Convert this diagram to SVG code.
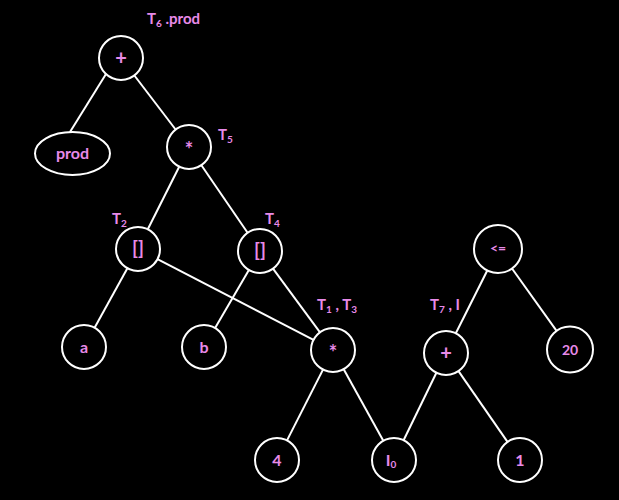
<svg xmlns="http://www.w3.org/2000/svg" width="619" height="500" viewBox="0 0 619 500">
<style>
.n{fill:none;stroke:#ffffff;stroke-width:2}
.e{stroke:#ffffff;stroke-width:2;fill:none}
.t{fill:#e88ae8;font-family:Lato,"Liberation Sans",sans-serif;font-weight:bold;font-size:16px;text-anchor:middle}
.l{fill:#e88ae8;font-family:Lato,"Liberation Sans",sans-serif;font-weight:bold;font-size:15px}
.s{font-size:10px}
.big{font-size:20px}
</style>
<rect width="619" height="500" fill="#000000"/>
<g id="connectors">
<line class="e" x1="106" y1="74" x2="70" y2="132"/>
<line class="e" x1="134.4" y1="75.5" x2="175.6" y2="129.5"/>
<line class="e" x1="179.2" y1="166.7" x2="147.8" y2="229.3"/>
<line class="e" x1="201.4" y1="165.2" x2="247.6" y2="232.8"/>
<line class="e" x1="127.4" y1="268.3" x2="94.6" y2="327.7"/>
<line class="e" x1="157.5" y1="259.1" x2="313.5" y2="339.9"/>
<line class="e" x1="248.9" y1="270" x2="215.1" y2="328"/>
<line class="e" x1="273" y1="268.7" x2="320" y2="332.3"/>
<line class="e" x1="323" y1="369.6" x2="287" y2="440.4"/>
<line class="e" x1="343.7" y1="369.2" x2="383.3" y2="440.8"/>
<line class="e" x1="436.4" y1="372.8" x2="403.6" y2="440.2"/>
<line class="e" x1="458.5" y1="371.1" x2="507.5" y2="441.9"/>
<line class="e" x1="487.3" y1="270.5" x2="455.8" y2="333.3"/>
<line class="e" x1="512" y1="268.5" x2="556.6" y2="330.8"/>
</g>
<g id="plus_top">
<circle class="n" cx="121" cy="58" r="22"/>
<text class="t big" x="121" y="65">+</text>
<text class="l" x="147" y="24">T<tspan class="s" dy="3">6</tspan><tspan dy="-3"> .prod</tspan></text>
</g>
<g id="prod">
<ellipse class="n" cx="72.5" cy="153.5" rx="37.5" ry="21.5"/>
<text class="t" x="72.5" y="159">prod</text>
</g>
<g id="mul_t5">
<circle class="n" cx="189" cy="147" r="22"/>
<text class="t big" x="189" y="157">*</text>
<text class="l" x="218" y="140">T<tspan class="s" dy="3">5</tspan></text>
</g>
<g id="idx_t2">
<circle class="n" cx="138" cy="249" r="22"/>
<text class="t" x="138" y="255" style="font-size:19px">[]</text>
<text class="l" x="112" y="224">T<tspan class="s" dy="3">2</tspan></text>
</g>
<g id="idx_t4">
<circle class="n" cx="260" cy="251" r="22"/>
<text class="t" x="260" y="257" style="font-size:19px">[]</text>
<text class="l" x="265" y="224">T<tspan class="s" dy="3">4</tspan></text>
</g>
<g id="a">
<circle class="n" cx="84" cy="347" r="22"/>
<text class="t" x="84" y="353">a</text>
</g>
<g id="b">
<circle class="n" cx="204" cy="347" r="22"/>
<text class="t" x="204" y="353">b</text>
</g>
<g id="mul_t1t3">
<circle class="n" cx="333" cy="350" r="22"/>
<text class="t big" x="333" y="360">*</text>
<text class="l" x="317" y="310">T<tspan class="s" dy="3">1</tspan><tspan dy="-3"> , T</tspan><tspan class="s" dy="3">3</tspan></text>
</g>
<g id="plus_t7">
<circle class="n" cx="446" cy="353" r="22"/>
<text class="t big" x="446" y="360">+</text>
<text class="l" x="430" y="310">T<tspan class="s" dy="3">7</tspan><tspan dy="-3"> , I</tspan></text>
</g>
<g id="le">
<circle class="n" cx="498" cy="249" r="24"/>
<text class="t" x="498" y="253" style="font-size:14px">&lt;=</text>
</g>
<g id="n20">
<circle class="n" cx="570" cy="349.5" r="23"/>
<text class="t" x="570" y="355" style="font-size:14px">20</text>
</g>
<g id="n4">
<circle class="n" cx="277" cy="460" r="22"/>
<text class="t" x="277" y="466">4</text>
</g>
<g id="i0">
<circle class="n" cx="394" cy="460" r="22"/>
<text class="t" x="391" y="466">I<tspan class="s" dy="2">0</tspan></text>
</g>
<g id="n1">
<circle class="n" cx="520" cy="460" r="22"/>
<text class="t" x="520" y="466">1</text>
</g>
</svg>
